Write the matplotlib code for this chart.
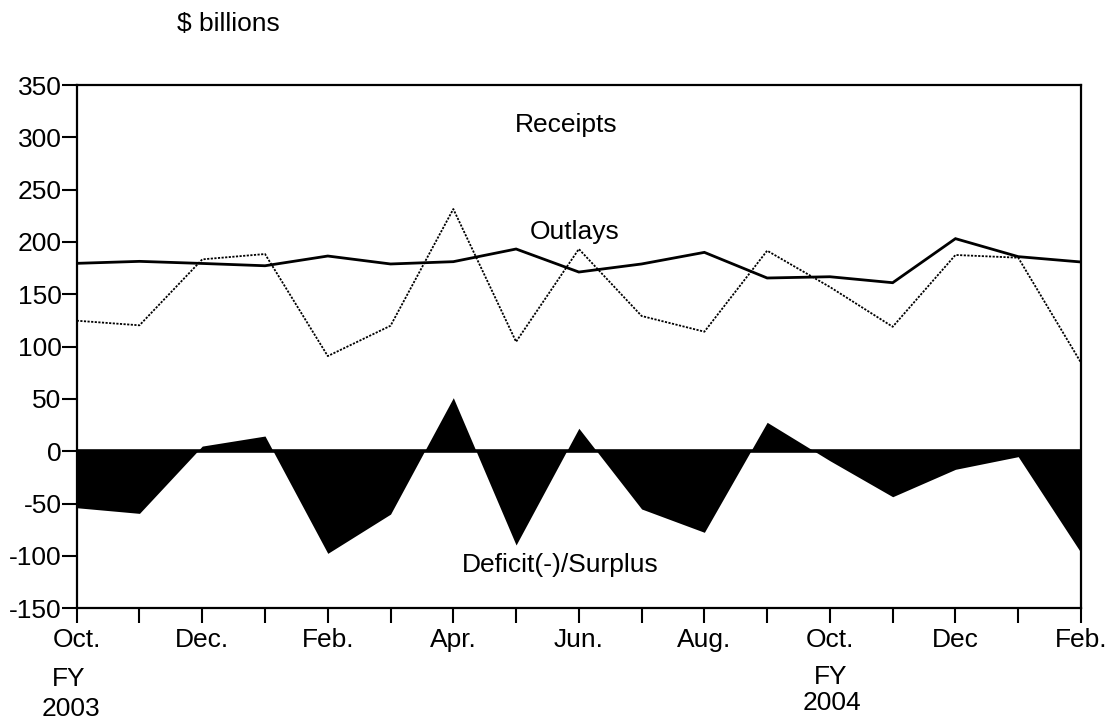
import matplotlib
matplotlib.use("Agg")
import matplotlib.pyplot as plt

plt.rcParams['font.family'] = ['Liberation Sans', 'DejaVu Sans']

months = ["Oct", "Nov", "Dec", "Jan", "Feb", "Mar", "Apr", "May", "Jun",
          "Jul", "Aug", "Sep", "Oct", "Nov", "Dec", "Jan", "Feb"]
outlays = [179.6, 181.5, 179.5, 177.3, 186.6, 179.0, 181.2, 193.3, 171.3,
           179.0, 190.1, 165.6, 166.8, 161.1, 203.2, 186.0, 180.9]
receipts = [124.8, 120.4, 183.4, 188.5, 91.0, 120.0, 231.5, 104.7, 193.3,
            129.3, 114.3, 191.7, 157.0, 119.0, 187.6, 185.0, 84.7]
deficit = [-53.9, -59.3, 5.0, 14.6, -97.5, -60.0, 51.2, -89.5, 22.0,
           -55.1, -77.4, 27.7, -9.0, -43.4, -17.2, -5.1, -96.9]
tick_labels = ["Oct.", "Dec.", "Feb.", "Apr.", "Jun.", "Aug.", "Oct.", "Dec", "Feb."]
yticks = [-150, -100, -50, 0, 50, 100, 150, 200, 250, 300, 350]

x = list(range(len(months)))
FS = 19

fig = plt.figure(figsize=(11.07, 7.21), dpi=100)
ax = fig.add_axes([0.0693, 0.1563, 0.9072, 0.7258])

ax.fill_between(x, deficit, 0, color="black", linewidth=0)
ax.axhline(0, color="black", lw=2.6)
ax.plot(x, outlays, color="black", lw=2.0, solid_joinstyle="miter")
ax.plot(x, receipts, color="black", lw=1.3, linestyle=(0, (1.2, 0.8)))

ax.set_xlim(0, 16)
ax.set_ylim(-150, 350)
ax.set_xticks(x)
ax.set_xticklabels([tick_labels[i // 2] if i % 2 == 0 else "" for i in x])
ax.set_yticks(yticks)
ax.set_yticklabels([str(v) for v in yticks])

for s in ax.spines.values():
    s.set_linewidth(1.6)
ax.tick_params(axis="both", direction="out", length=11, width=1.5,
               labelsize=FS, colors="black")
ax.tick_params(axis="y", pad=0)
ax.tick_params(axis="x", pad=3)

ax.text(7.8, 312, "Receipts", fontsize=FS, ha="center", va="center")
ax.text(7.94, 210, "Outlays", fontsize=FS, ha="center", va="center")
ax.text(7.7, -109, "Deficit(-)/Surplus", fontsize=FS, ha="center", va="center")

fig.text(177 / 1107, 1 - 24 / 721, "$ billions", fontsize=FS, ha="left", va="center")
fig.text(69 / 1107, 1 - 679 / 721, "FY", fontsize=FS, ha="center", va="center")
fig.text(71 / 1107, 1 - 709 / 721, "2003", fontsize=FS, ha="center", va="center")
fig.text(831 / 1107, 1 - 677 / 721, "FY", fontsize=FS, ha="center", va="center")
fig.text(832 / 1107, 1 - 703 / 721, "2004", fontsize=FS, ha="center", va="center")

fig.savefig("out.png", dpi=100, facecolor="white")
